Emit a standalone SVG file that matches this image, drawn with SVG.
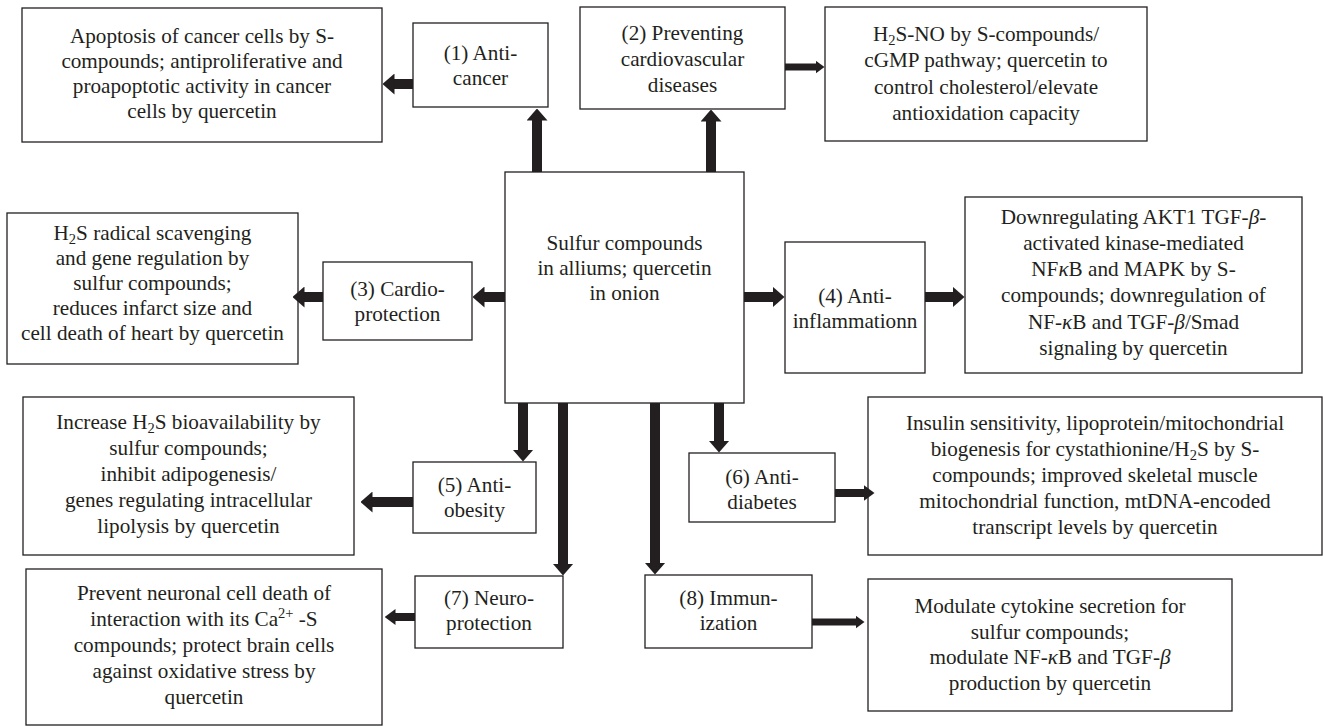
<svg xmlns="http://www.w3.org/2000/svg" width="1323" height="727" viewBox="0 0 1323 727">
<style>
.box{fill:#fff;stroke:#231f20;stroke-width:1.3}
.t{font-family:"Liberation Serif","Times New Roman",serif;font-size:21.2px;fill:#231f20;text-anchor:middle}
.sub{font-size:14.5px}
.gk{font-style:italic}
.aL{stroke:#231f20;stroke-width:10;fill:none;marker-end:url(#ahL)}
.aM{stroke:#231f20;stroke-width:8;fill:none;marker-end:url(#ahM)}
.aS{stroke:#231f20;stroke-width:7;fill:none;marker-end:url(#ahS)}
</style>
<defs>
<marker id="ahL" markerUnits="userSpaceOnUse" markerWidth="12" markerHeight="21" viewBox="0 0 12 21" refX="0.5" refY="10.5" orient="auto">
<path d="M0,0 L12,10.5 L0,21 Z" fill="#231f20"/>
</marker>
<marker id="ahM" markerUnits="userSpaceOnUse" markerWidth="11" markerHeight="16" viewBox="0 0 11 16" refX="0.5" refY="8" orient="auto">
<path d="M0,0 L11,8 L0,16 Z" fill="#231f20"/>
</marker>
<marker id="ahS" markerUnits="userSpaceOnUse" markerWidth="9" markerHeight="13" viewBox="0 0 9 13" refX="0.5" refY="6.5" orient="auto">
<path d="M0,0 L9,6.5 L0,13 Z" fill="#231f20"/>
</marker>
</defs>
<rect width="1323" height="727" fill="#fff"/>

<g id="n-center">
<rect class="box" x="505" y="172" width="239" height="231"/>
<text class="t" x="624.5" y="250">Sulfur compounds</text>
<text class="t" x="624.5" y="275">in alliums; quercetin</text>
<text class="t" x="624.5" y="300">in onion</text>
</g>

<g id="n-1">
<rect class="box" x="413" y="23" width="135" height="84"/>
<text class="t" x="480.5" y="60">(1) Anti-</text>
<text class="t" x="480.5" y="85">cancer</text>
</g>
<g id="n-1-effect">
<rect class="box" x="22" y="8" width="360" height="134"/>
<text class="t" x="202" y="43">Apoptosis of cancer cells by S-</text>
<text class="t" x="202" y="68">compounds; antiproliferative and</text>
<text class="t" x="202" y="93">proapoptotic activity in cancer</text>
<text class="t" x="202" y="118">cells by quercetin</text>
</g>

<g id="n-2">
<rect class="box" x="580" y="7" width="205" height="102"/>
<text class="t" x="682.5" y="40">(2) Preventing</text>
<text class="t" x="682.5" y="66">cardiovascular</text>
<text class="t" x="682.5" y="92">diseases</text>
</g>
<g id="n-2-effect">
<rect class="box" x="825" y="7" width="322" height="134"/>
<text class="t" x="986" y="41">H<tspan class="sub" dy="4">2</tspan><tspan dy="-4">S-NO by S-compounds/</tspan></text>
<text class="t" x="986" y="67">cGMP pathway; quercetin to</text>
<text class="t" x="986" y="93.5">control cholesterol/elevate</text>
<text class="t" x="986" y="120">antioxidation capacity</text>
</g>

<g id="n-3">
<rect class="box" x="323" y="262" width="149" height="78"/>
<text class="t" x="397.5" y="296">(3) Cardio-</text>
<text class="t" x="397.5" y="321">protection</text>
</g>
<g id="n-3-effect">
<rect class="box" x="7" y="213" width="291" height="151"/>
<text class="t" x="152.5" y="240">H<tspan class="sub" dy="4">2</tspan><tspan dy="-4">S radical scavenging</tspan></text>
<text class="t" x="152.5" y="265">and gene regulation by</text>
<text class="t" x="152.5" y="290">sulfur compounds;</text>
<text class="t" x="152.5" y="315">reduces infarct size and</text>
<text class="t" x="152.5" y="340">cell death of heart by quercetin</text>
</g>

<g id="n-4">
<rect class="box" x="785" y="242" width="140" height="131"/>
<text class="t" x="855" y="303">(4) Anti-</text>
<text class="t" x="855" y="328">inflammationn</text>
</g>
<g id="n-4-effect">
<rect class="box" x="965" y="197" width="337" height="176"/>
<text class="t" x="1133.5" y="224">Downregulating AKT1 TGF-<tspan class="gk">β</tspan>-</text>
<text class="t" x="1133.5" y="250">activated kinase-mediated</text>
<text class="t" x="1133.5" y="276">NF<tspan class="gk">κ</tspan>B and MAPK by S-</text>
<text class="t" x="1133.5" y="302">compounds; downregulation of</text>
<text class="t" x="1133.5" y="328.5">NF-<tspan class="gk">κ</tspan>B and TGF-<tspan class="gk">β</tspan>/Smad</text>
<text class="t" x="1133.5" y="355">signaling by quercetin</text>
</g>

<g id="n-5">
<rect class="box" x="413" y="462" width="123" height="71"/>
<text class="t" x="474.5" y="492">(5) Anti-</text>
<text class="t" x="474.5" y="517">obesity</text>
</g>
<g id="n-5-effect">
<rect class="box" x="23" y="397" width="331" height="158"/>
<text class="t" x="188.5" y="429">Increase H<tspan class="sub" dy="4">2</tspan><tspan dy="-4">S bioavailability by</tspan></text>
<text class="t" x="188.5" y="455">sulfur compounds;</text>
<text class="t" x="188.5" y="481">inhibit adipogenesis/</text>
<text class="t" x="188.5" y="507">genes regulating intracellular</text>
<text class="t" x="188.5" y="533">lipolysis by quercetin</text>
</g>

<g id="n-6">
<rect class="box" x="689" y="453" width="146" height="69"/>
<text class="t" x="762" y="484">(6) Anti-</text>
<text class="t" x="762" y="509">diabetes</text>
</g>
<g id="n-6-effect">
<rect class="box" x="868" y="397" width="454" height="158"/>
<text class="t" x="1095" y="430">Insulin sensitivity, lipoprotein/mitochondrial</text>
<text class="t" x="1095" y="456">biogenesis for cystathionine/H<tspan class="sub" dy="4">2</tspan><tspan dy="-4">S by S-</tspan></text>
<text class="t" x="1095" y="482">compounds; improved skeletal muscle</text>
<text class="t" x="1095" y="508">mitochondrial function, mtDNA-encoded</text>
<text class="t" x="1095" y="534">transcript levels by quercetin</text>
</g>

<g id="n-7">
<rect class="box" x="415" y="576" width="148" height="72"/>
<text class="t" x="489" y="605">(7) Neuro-</text>
<text class="t" x="489" y="630">protection</text>
</g>
<g id="n-7-effect">
<rect class="box" x="26" y="569" width="356" height="156"/>
<text class="t" x="204" y="600">Prevent neuronal cell death of</text>
<text class="t" x="204" y="626">interaction with its Ca<tspan class="sub" dy="-8">2+</tspan><tspan dy="8"> -S</tspan></text>
<text class="t" x="204" y="652">compounds; protect brain cells</text>
<text class="t" x="204" y="678">against oxidative stress by</text>
<text class="t" x="204" y="704">quercetin</text>
</g>

<g id="n-8">
<rect class="box" x="645" y="575" width="167" height="73"/>
<text class="t" x="728.5" y="605">(8) Immun-</text>
<text class="t" x="728.5" y="630">ization</text>
</g>
<g id="n-8-effect">
<rect class="box" x="868" y="579" width="364" height="132"/>
<text class="t" x="1050" y="613">Modulate cytokine secretion for</text>
<text class="t" x="1050" y="639">sulfur compounds;</text>
<text class="t" x="1050" y="664">modulate NF-<tspan class="gk">κ</tspan>B and TGF-<tspan class="gk">β</tspan></text>
<text class="t" x="1050" y="690">production by quercetin</text>
</g>

<g id="connectors">
<line class="aL" x1="537" y1="172" x2="537" y2="120"/>
<line class="aL" x1="711" y1="172" x2="711" y2="121"/>
<line class="aL" x1="413" y1="84" x2="394" y2="84"/>
<line class="aS" x1="785" y1="67" x2="816" y2="67"/>
<line class="aL" x1="505" y1="297" x2="484" y2="297"/>
<line class="aL" x1="323" y1="297" x2="304" y2="297"/>
<line class="aL" x1="744" y1="297" x2="773" y2="297"/>
<line class="aL" x1="925" y1="297" x2="953" y2="297"/>
<line class="aL" x1="523" y1="403" x2="523" y2="450"/>
<line class="aL" x1="563" y1="403" x2="563" y2="564"/>
<line class="aL" x1="655" y1="403" x2="655" y2="563"/>
<line class="aL" x1="719" y1="403" x2="719" y2="441"/>
<line class="aL" x1="413" y1="502" x2="372" y2="502"/>
<line class="aM" x1="835" y1="493" x2="864" y2="493"/>
<line class="aM" x1="415" y1="617" x2="395" y2="617"/>
<line class="aS" x1="812" y1="622" x2="856" y2="622"/>
</g>
</svg>
